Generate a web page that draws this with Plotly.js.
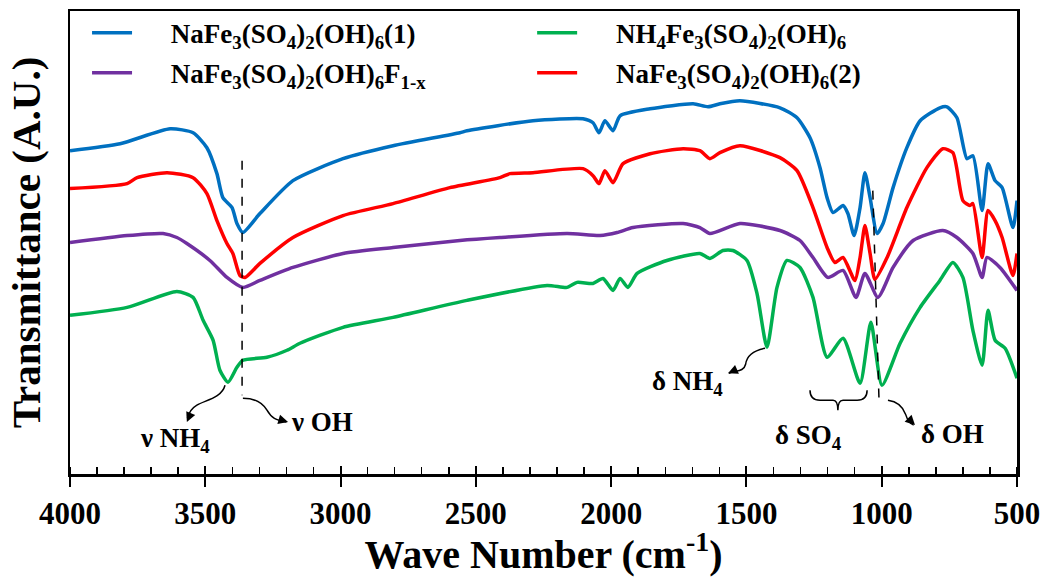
<!DOCTYPE html>
<html>
<head>
<meta charset="utf-8">
<script src="https://cdn.plot.ly/plotly-3.0.1.min.js"></script>
<style>html,body{margin:0;padding:0;background:#fff}#chart{width:1045px;height:577px}</style>
</head>
<body>
<div id="chart"></div>
<script>
// Wavenumbers (cm-1) and transmittance (arbitrary units, offset curves)
const blueWN = [4000,3815,3630,3545,3494,3457,3435,3401,3383,3361,3298,3176,2991,2806,2559,2533,2289,2104,2067,2045,2023,1993,1967,1856,1697,1642,1598,1524,1376,1313,1265,1228,1202,1180,1143,1125,1102,1080,1062,1043,1017,995,958,907,858,785,759,722,685,663,629,607,581,555,515,500];
const blueT  = [324,331,346,342,327,301,277,267,251,242,261,294,316,329,342,344,354,356,352,342,354,344,359,366,371,368,371,374,367,357,337,307,277,262,269,261,239,267,302,277,241,251,287,327,354,367,368,357,316,319,264,311,294,287,247,274];

const redWN = [4000,3789,3752,3641,3545,3494,3457,3420,3398,3372,3353,3298,3176,2991,2806,2596,2411,2374,2289,2104,2067,2045,2023,1993,1956,1856,1734,1672,1635,1598,1524,1376,1313,1254,1202,1173,1143,1099,1080,1062,1043,1025,980,907,833,774,737,700,674,663,629,607,581,555,515,500];
const redT  = [286,291,297,302,297,281,254,231,221,199,197,211,237,259,271,287,297,301,302,306,299,291,304,292,311,321,326,324,316,322,329,317,304,267,227,212,217,194,217,249,221,195,217,267,307,326,322,274,269,271,217,264,254,237,199,221];

const purpleWN = [4000,3789,3656,3605,3568,3483,3420,3361,3298,3176,2991,2806,2559,2411,2163,2041,1978,1919,1734,1672,1635,1524,1376,1302,1254,1199,1143,1095,1062,1014,958,884,774,722,663,629,611,563,500];
const purpleT  = [232,239,241,237,231,214,197,187,194,207,221,227,234,237,241,239,242,247,251,247,241,251,244,234,217,197,204,177,201,177,207,234,244,237,221,197,217,207,184];

const greenWN = [4000,3789,3605,3545,3508,3471,3446,3416,3383,3361,3272,3198,3150,2991,2806,2533,2237,2163,2126,2067,2030,1993,1967,1938,1904,1794,1672,1635,1587,1550,1498,1461,1424,1387,1350,1302,1254,1202,1143,1080,1040,999,932,858,785,737,700,663,629,607,581,544,500];
const greenT  = [159,167,183,177,154,134,104,92,107,114,117,124,131,147,157,174,189,187,192,191,196,184,196,187,201,214,221,216,224,224,214,181,127,187,214,207,177,117,136,91,152,89,131,167,194,212,197,144,109,164,134,126,96];

const seriesNames = [
  'NaFe<sub>3</sub>(SO<sub>4</sub>)<sub>2</sub>(OH)<sub>6</sub>(1)',
  'NH<sub>4</sub>Fe<sub>3</sub>(SO<sub>4</sub>)<sub>2</sub>(OH)<sub>6</sub>',
  'NaFe<sub>3</sub>(SO<sub>4</sub>)<sub>2</sub>(OH)<sub>6</sub>F<sub>1-x</sub>',
  'NaFe<sub>3</sub>(SO<sub>4</sub>)<sub>2</sub>(OH)<sub>6</sub>(2)'
];
const seriesColors = ['#0070C0', '#00B050', '#7030A0', '#FF0000'];

// Annotation marker positions (wavenumber, transmittance)
const vOHLine = {x: [3364, 3364], y: [314, 79]};
const dOHLine = {x: [1033, 1010], y: [284, 74]};
const labels = [
  {x: 3612, y: 34, t: '\u03BD NH<sub>4</sub>'},
  {x: 3069, y: 52, t: '\u03BD OH'},
  {x: 1716, y: 91, t: '\u03B4 NH<sub>4</sub>'},
  {x: 1272, y: 37, t: '\u03B4 SO<sub>4</sub>'},
  {x: 740,  y: 40, t: '\u03B4 OH'}
];

const serif = 'Times New Roman, Liberation Serif, serif';
const pad = '\u00A0\u00A0\u00A0\u00A0\u00A0';

function tr(x, y, i, leg) {
  return {x: x, y: y, type: 'scatter', mode: 'lines', name: pad + seriesNames[i],
    legend: leg, line: {color: seriesColors[i], width: 3.5, shape: 'spline', smoothing: 0.6},
    hoverinfo: 'skip'};
}
const data = [
  tr(greenWN, greenT, 1, 'legend2'),
  tr(purpleWN, purpleT, 2, 'legend3'),
  tr(blueWN, blueT, 0, 'legend'),
  tr(redWN, redT, 3, 'legend4'),
  // invisible trace so the overlay axis (inside part of major ticks) is drawn
  {x: [4000], y: [0], xaxis: 'x2', yaxis: 'y', mode: 'markers', marker: {opacity: 0}, showlegend: false, hoverinfo: 'skip'}
];

function curve(d) { return {type: 'path', xref: 'x', yref: 'y', path: d, line: {color: '#000', width: 1.5}}; }
const shapes = [
  {type: 'line', xref: 'x', yref: 'y', x0: vOHLine.x[0], x1: vOHLine.x[1], y0: vOHLine.y[0], y1: vOHLine.y[1], line: {color: '#000', width: 1.5, dash: 'dash'}},
  {type: 'line', xref: 'x', yref: 'y', x0: dOHLine.x[0], x1: dOHLine.x[1], y0: dOHLine.y[0], y1: dOHLine.y[1], line: {color: '#000', width: 1.5, dash: 'dash'}},
  curve('M3427,89 C3440,76 3500,74 3531,69 C3550,66 3560,62 3566,56'),
  curve('M3361,76 C3320,76 3290,72 3272,64 C3255,56 3240,54 3200,52'),
  curve('M1431,126 C1470,124 1498,120 1503,110 C1510,102 1540,104 1565,101'),
  curve('M977,74 C950,73 925,70 912,60 C905,54 895,50 882,49'),
  curve('M1265,84 Q1265,74 1228,74 L1180,74 Q1162,74 1162,64 Q1162,74 1143,74 L1091,74 Q1054,74 1054,84')
];

function head(x, y, ax, ay) {
  return {x: x, y: y, xref: 'x', yref: 'y', text: '', showarrow: true, arrowhead: 2, arrowsize: 1.3, arrowwidth: 1.5,
    arrowcolor: '#000', ax: ax, ay: ay, axref: 'pixel', ayref: 'pixel', standoff: 0};
}
const annotations = labels.map(l => ({x: l.x, y: l.y, xref: 'x', yref: 'y', text: l.t, showarrow: false,
  font: {family: serif, size: 27, color: '#000', weight: 'bold'}})).concat([
  head(3568, 52, 3, -7),
  head(3194, 52, -7, -2),
  head(1568, 101, 7, -3),
  head(877, 49, -5, -5)
]);

function leg(x, y) {
  return {x: x, y: y, xanchor: 'left', yanchor: 'middle', orientation: 'h', bgcolor: 'rgba(0,0,0,0)',
    borderwidth: 0, font: {family: serif, size: 27, color: '#000', weight: 'bold'}, itemwidth: 40};
}

const layout = {
  width: 1045, height: 577,
  margin: {l: 70, r: 28, t: 10, b: 103},
  paper_bgcolor: '#fff', plot_bgcolor: '#fff',
  showlegend: true,
  xaxis: {range: [4000, 500], showgrid: false, zeroline: false, showline: true, linecolor: '#000', linewidth: 2.5, mirror: true,
    tickmode: 'linear', tick0: 500, dtick: 500, ticks: 'outside', ticklen: 10, tickwidth: 2, tickcolor: '#000',
    minor: {dtick: 100, ticks: 'inside', ticklen: 7, tickwidth: 1.5, tickcolor: '#000', showgrid: false},
    tickfont: {family: serif, size: 31, color: '#000', weight: 'bold'},
    title: {text: 'Wave Number (cm<sup>-1</sup>)', font: {family: serif, size: 40, color: '#000', weight: 'bold'}, standoff: 4}},
  xaxis2: {range: [4000, 500], overlaying: 'x', anchor: 'y', side: 'bottom', showgrid: false, zeroline: false, showline: false,
    tickmode: 'linear', tick0: 500, dtick: 500, ticks: 'inside', ticklen: 8, tickwidth: 2, tickcolor: '#000', showticklabels: false},
  yaxis: {range: [0, 464], showgrid: false, zeroline: false, showline: true, linecolor: '#000', linewidth: 2.5, mirror: true,
    ticks: '', showticklabels: false,
    title: {text: 'Transmittance (A.U.)', font: {family: serif, size: 41, color: '#000', weight: 'bold'}, standoff: 14}},
  legend: leg(0.018, 0.950),
  legend2: leg(0.488, 0.950),
  legend3: leg(0.018, 0.864),
  legend4: leg(0.488, 0.864),
  shapes: shapes,
  annotations: annotations
};

Plotly.newPlot('chart', data, layout, {staticPlot: true, displayModeBar: false});
</script>
</body>
</html>
